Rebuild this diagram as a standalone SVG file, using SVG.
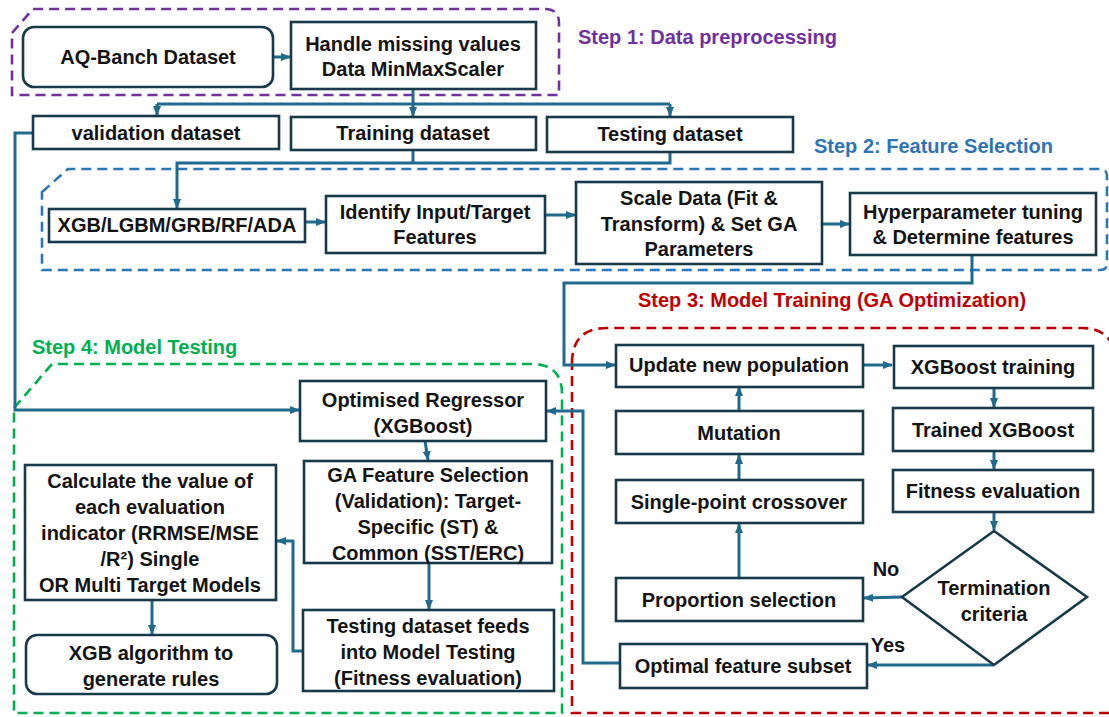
<svg xmlns="http://www.w3.org/2000/svg" width="1109" height="717" viewBox="0 0 1109 717">
<defs>
<marker id="ah" viewBox="0 0 10 8" refX="9" refY="4" markerWidth="10" markerHeight="8" markerUnits="userSpaceOnUse" orient="auto">
<path d="M0,0 L10,4 L0,8 z" fill="#1F6A8D"/>
</marker>
<style>
.box{fill:#fff;stroke:#17394A;stroke-width:2.6}
.t{font-family:"Liberation Sans",Arial,sans-serif;font-weight:bold;font-size:20px;fill:#141414;text-anchor:middle;dominant-baseline:central}
.step{font-family:"Liberation Sans",Arial,sans-serif;font-weight:bold;font-size:20px;dominant-baseline:central}
.c{fill:none;stroke:#1F6A8D;stroke-width:3}
.ca{fill:none;stroke:#1F6A8D;stroke-width:3;marker-end:url(#ah)}
.dash{fill:none;stroke-width:2.6;stroke-dasharray:10 6}
</style>
</defs>
<rect width="1109" height="717" fill="#fff"/>

<g id="containers">
<path class="dash" stroke="#7030A0" d="M12,33 L33,9 L545,9 Q559,9 559,23 L559,95 L12,95 Z"/>
<path class="dash" stroke="#2E75B6" d="M42,192 L68,169 L1100,169 Q1107,169 1107,176 L1107,263 Q1107,270 1100,270 L42,270 Z"/>
<path class="dash" stroke="#C00000" d="M572,363 Q572,328 607,328 L1082,328 Q1114,328 1116,362 L1116,713 L572,713 Z"/>
<path class="dash" stroke="#00B050" d="M14,408 L52,364 L532,364 Q562,364 562,394 L562,713 L14,713 Z"/>
<text class="step" x="578" y="37" fill="#7030A0">Step 1: Data preprocessing</text>
<text class="step" x="814" y="146" fill="#2E75B6">Step 2: Feature Selection</text>
<text class="step" x="638" y="300" fill="#C00000">Step 3: Model Training (GA Optimization)</text>
<text class="step" x="32" y="347" fill="#00B050">Step 4: Model Testing</text>
</g>

<g id="connectors">
<line class="ca" x1="273" y1="57" x2="290" y2="57"/>
<line class="ca" x1="413" y1="89" x2="413" y2="116"/>
<polyline class="c" points="157,104 670,104"/>
<line class="ca" x1="157" y1="104" x2="157" y2="115"/>
<line class="ca" x1="670" y1="104" x2="670" y2="116"/>
<line class="c" x1="413" y1="150" x2="413" y2="163"/>
<polyline class="ca" points="670,152 670,163 177,163 177,208"/>
<line class="ca" x1="305" y1="222" x2="325" y2="222"/>
<line class="ca" x1="545" y1="215" x2="575" y2="215"/>
<line class="ca" x1="822" y1="224" x2="849" y2="224"/>
<polyline class="ca" points="972,255 972,283 564,283 564,365 615,365"/>
<line class="ca" x1="863" y1="365" x2="892" y2="365"/>
<line class="ca" x1="994" y1="388" x2="994" y2="407"/>
<line class="ca" x1="994" y1="451" x2="994" y2="469"/>
<line class="ca" x1="994" y1="512" x2="994" y2="530"/>
<line class="ca" x1="902" y1="597" x2="864" y2="598"/>
<polyline class="ca" points="994,665 868,665"/>
<line class="ca" x1="739" y1="578" x2="739" y2="524"/>
<line class="ca" x1="739" y1="480" x2="739" y2="455"/>
<line class="ca" x1="739" y1="411" x2="739" y2="387"/>
<polyline class="ca" points="620,663 583,663 583,411 547,411"/>
<polyline class="ca" points="33,133 15,133 15,410 299,410"/>
<line class="ca" x1="425" y1="441" x2="428" y2="460"/>
<line class="ca" x1="429" y1="563" x2="429" y2="609"/>
<polyline class="ca" points="303,651 293,651 293,541 277,541"/>
<line class="ca" x1="152" y1="600" x2="152" y2="634"/>
</g>

<g id="n-aq"><rect class="box" x="23" y="27" width="250" height="60" rx="11"/><text class="t" x="148" y="57">AQ-Banch Dataset</text></g>
<g id="n-handle"><rect class="box" x="291" y="22" width="245" height="67"/><text class="t" x="413" y="44">Handle missing values</text><text class="t" x="413" y="69">Data MinMaxScaler</text></g>
<g id="n-valid"><rect class="box" x="33" y="116" width="246" height="33"/><text class="t" x="156" y="133">validation dataset</text></g>
<g id="n-train"><rect class="box" x="291" y="117" width="245" height="33"/><text class="t" x="413" y="133">Training dataset</text></g>
<g id="n-test"><rect class="box" x="547" y="117" width="246" height="35"/><text class="t" x="670" y="134">Testing dataset</text></g>
<g id="n-xgb"><rect class="box" x="49" y="209" width="256" height="33"/><text class="t" x="177" y="225">XGB/LGBM/GRB/RF/ADA</text></g>
<g id="n-identify"><rect class="box" x="326" y="196" width="219" height="57"/><text class="t" x="435" y="212">Identify Input/Target</text><text class="t" x="435" y="237">Features</text></g>
<g id="n-scale"><rect class="box" x="576" y="182" width="246" height="82"/><text class="t" x="699" y="198">Scale Data (Fit &amp;</text><text class="t" x="699" y="224">Transform) &amp; Set GA</text><text class="t" x="699" y="249">Parameters</text></g>
<g id="n-hyper"><rect class="box" x="850" y="193" width="246" height="62"/><text class="t" x="973" y="212">Hyperparameter tuning</text><text class="t" x="973" y="237">&amp; Determine features</text></g>

<g id="n-update"><rect class="box" x="616" y="345" width="247" height="42"/><text class="t" x="739" y="365">Update new population</text></g>
<g id="n-xgbtrain"><rect class="box" x="894" y="346" width="199" height="42"/><text class="t" x="993" y="367">XGBoost training</text></g>
<g id="n-mutation"><rect class="box" x="616" y="411" width="247" height="43"/><text class="t" x="739" y="433">Mutation</text></g>
<g id="n-trained"><rect class="box" x="893" y="408" width="200" height="43"/><text class="t" x="993" y="430">Trained XGBoost</text></g>
<g id="n-crossover"><rect class="box" x="616" y="480" width="247" height="43"/><text class="t" x="739" y="502">Single-point crossover</text></g>
<g id="n-fitness"><rect class="box" x="893" y="470" width="200" height="42"/><text class="t" x="993" y="491">Fitness evaluation</text></g>
<g id="n-term"><polygon class="box" points="994,531 1087,597 994,665 902,597"/><text class="t" x="994" y="588">Termination</text><text class="t" x="994" y="614">criteria</text></g>
<g id="n-proportion"><rect class="box" x="616" y="578" width="247" height="43"/><text class="t" x="739" y="600">Proportion selection</text></g>
<g id="n-optimal"><rect class="box" x="620" y="644" width="247" height="44"/><text class="t" x="743" y="666">Optimal feature subset</text></g>
<g id="l-no"><text class="t" x="886" y="569">No</text></g>
<g id="l-yes"><text class="t" x="888" y="645">Yes</text></g>

<g id="n-optimised"><rect class="box" x="300" y="381" width="246" height="60"/><text class="t" x="423" y="400">Optimised Regressor</text><text class="t" x="423" y="426">(XGBoost)</text></g>
<g id="n-ga"><rect class="box" x="304" y="461" width="248" height="102"/><text class="t" x="428" y="475">GA Feature Selection</text><text class="t" x="428" y="501">(Validation): Target-</text><text class="t" x="428" y="527">Specific (ST) &amp;</text><text class="t" x="428" y="553">Common (SST/ERC)</text></g>
<g id="n-testfeed"><rect class="box" x="303" y="610" width="251" height="81"/><text class="t" x="428" y="626">Testing dataset feeds</text><text class="t" x="428" y="652">into Model Testing</text><text class="t" x="428" y="678">(Fitness evaluation)</text></g>
<g id="n-calc"><rect class="box" x="25" y="465" width="251" height="135"/><text class="t" x="150" y="481">Calculate the value of</text><text class="t" x="150" y="507">each evaluation</text><text class="t" x="150" y="533">indicator (RRMSE/MSE</text><text class="t" x="150" y="559">/R²) Single</text><text class="t" x="150" y="585">OR Multi Target Models</text></g>
<g id="n-rules"><rect class="box" x="26" y="635" width="251" height="59" rx="11"/><text class="t" x="151" y="653">XGB algorithm to</text><text class="t" x="151" y="679">generate rules</text></g>
</svg>
